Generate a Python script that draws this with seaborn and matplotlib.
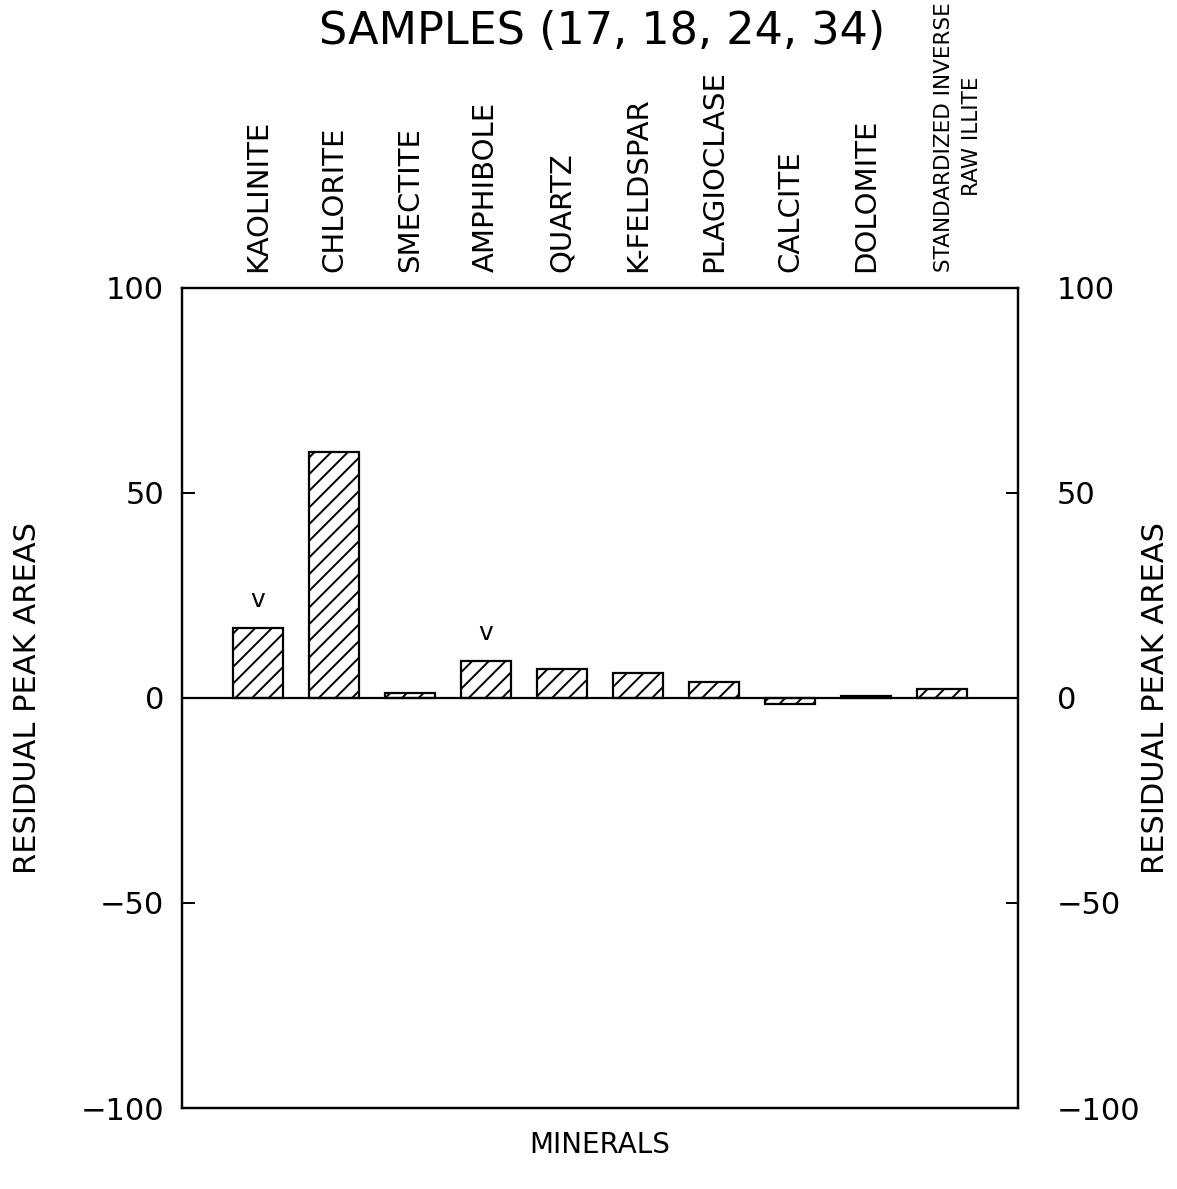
import matplotlib
matplotlib.use("Agg")
import matplotlib.pyplot as plt
import matplotlib.transforms as mtransforms
import seaborn as sns
import pandas as pd

minerals = ["KAOLINITE", "CHLORITE", "SMECTITE", "AMPHIBOLE", "QUARTZ",
            "K-FELDSPAR", "PLAGIOCLASE", "CALCITE", "DOLOMITE",
            "STANDARDIZED INVERSE\nRAW ILLITE"]
residuals = [17.1, 60.0, 1.2, 9.0, 7.0, 6.2, 4.0, -1.4, 0.4, 2.1]
flagged = [True, False, False, True, False, False, False, False, False, False]
yticks = [-100, -50, 0, 50, 100]

title = "SAMPLES (17, 18, 24, 34)"
ylabel = "RESIDUAL PEAK AREAS"
xlabel = "MINERALS"

sns.set_style("ticks")
plt.rcParams["font.family"] = ["DejaVu Sans"]
plt.rcParams["text.color"] = "black"
plt.rcParams["xtick.color"] = "black"
plt.rcParams["ytick.color"] = "black"
plt.rcParams["axes.labelcolor"] = "black"
plt.rcParams["hatch.linewidth"] = 1.4
plt.rcParams["hatch.color"] = "black"

df = pd.DataFrame({"mineral": minerals, "residual": residuals})

fig = plt.figure(figsize=(11.77, 11.89), dpi=100)
W, H = 1177, 1189
ax = fig.add_axes([182 / W, 1 - 1108 / H, (1018 - 182) / W, (1108 - 288) / H])

sns.barplot(data=df, x="mineral", y="residual", order=minerals, ax=ax,
            color="white", edgecolor="black", linewidth=1.6, width=0.66,
            saturation=1)
for p in ax.patches:
    p.set_hatch("//")
    p.set_facecolor("white")

ax.axhline(0, color="black", lw=1.6, zorder=5)
ax.set_xlim(-1, 10)
ax.set_ylim(-100, 100)

# flags
for i, (v, f) in enumerate(zip(residuals, flagged)):
    if f:
        ax.text(i, v + 6.8, "v", ha="center", va="center", fontsize=18,
                color="black")

# category labels on top
ax.set_xticks([])
ax.set_xlabel("")
for i, m in enumerate(minerals):
    fs = 21
    trans = mtransforms.blended_transform_factory(ax.transData, ax.transAxes)
    if "\n" in m:
        fs = 15.5
        trans = trans + mtransforms.ScaledTranslation(16 / 100, 0, fig.dpi_scale_trans)
    ax.text(i, 1.02, m, transform=trans, rotation=90, ha="center", va="bottom",
            fontsize=fs, multialignment="center", linespacing=1.45,
            color="black")

# y axis left
ax.set_yticks(yticks)
ax.set_yticklabels([str(t).replace("-", "\u2212") for t in yticks], fontsize=22)
ax.tick_params(axis="y", direction="in", length=9, width=1.4, pad=13,
               left=True, right=False, labelcolor="black")
ax.set_ylabel(ylabel, fontsize=22, color="black")
ax.yaxis.label.set_verticalalignment("center")
ax.yaxis.set_label_coords(-0.185, 0.5)

# y axis right
ax2 = ax.twinx()
ax2.set_ylim(-100, 100)
ax2.set_yticks(yticks)
ax2.set_yticklabels([str(t).replace("-", "\u2212") for t in yticks], fontsize=22)
ax2.tick_params(axis="y", direction="in", length=9, width=1.4, pad=28,
                labelcolor="black")
ax2.set_ylabel(ylabel, fontsize=22, rotation=90, color="black")
ax2.yaxis.label.set_verticalalignment("center")
ax2.yaxis.set_label_coords(1.164, 0.5)
ax2.grid(False)

for a in (ax, ax2):
    for s in a.spines.values():
        s.set_visible(True)
        s.set_linewidth(1.6)
        s.set_color("black")

ax.text(0.502, (1108 - 32) / 820, title, transform=ax.transAxes,
        ha="center", va="center", fontsize=32, color="black")
ax.text(0.5, (1108 - 1145) / 820, xlabel, transform=ax.transAxes,
        ha="center", va="center", fontsize=20, color="black")

fig.savefig("out.png", dpi=100, facecolor="white")
